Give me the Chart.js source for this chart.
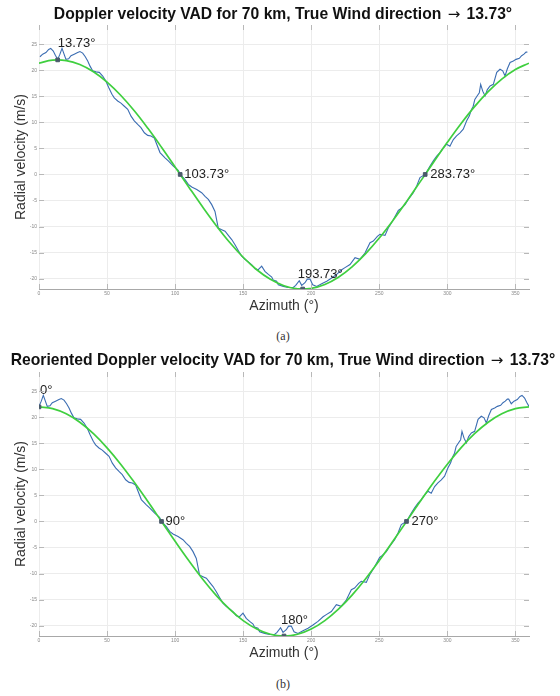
<!DOCTYPE html>
<html><head><meta charset="utf-8">
<script src="https://cdn.jsdelivr.net/npm/chart.js@4.4.1/dist/chart.umd.min.js"></script>
<style>
html,body{margin:0;padding:0;background:#fff;width:560px;height:696px;overflow:hidden;font-family:"Liberation Sans",Arial,sans-serif;}
.wrap{position:absolute;left:0;width:560px;height:318px;}
.title{position:absolute;left:0;width:566px;text-align:center;font-weight:bold;font-size:15.7px;line-height:18px;color:#111;white-space:nowrap;}
.title .arr{font-family:"DejaVu Sans",sans-serif;font-weight:normal;font-size:15px;margin:0 2px;}
.cap{position:absolute;left:0;width:566px;text-align:center;font-family:"Liberation Serif","DejaVu Serif",serif;font-size:12px;line-height:14px;color:#333;}
</style></head>
<body>
<div class="wrap" style="top:0"><canvas id="c1" width="560" height="318"></canvas></div>
<div class="title" style="top:5px">Doppler velocity VAD for 70 km, True Wind direction <span class="arr">→</span> 13.73°</div>
<div class="cap" style="top:329px">(a)</div>
<div class="wrap" style="top:347px"><canvas id="c2" width="560" height="318"></canvas></div>
<div class="title" style="top:351px">Reoriented Doppler velocity VAD for 70 km, True Wind direction <span class="arr">→</span> 13.73°</div>
<div class="cap" style="top:677px">(b)</div>
<script>
// ---- data ----
const WIND_DIR = 13.73;
const AZIMUTH = [0.7,2.7,5.1,7.1,8.6,10.5,12.0,13.73,15.4,16.9,19.8,21.8,23.5,25.9,28.4,30.1,32.1,34.0,35.8,37.5,39.4,41.9,44.3,46.8,49.2,51.2,53.6,55.3,57.8,60.2,62.7,65.2,67.6,70.0,72.5,74.9,77.4,79.9,82.3,84.7,86.5,88.9,92.6,95.0,98.7,102.3,103.73,107.3,109.7,112.2,115.9,119.5,122.0,124.4,126.9,129.3,131.7,134.2,136.7,139.1,141.6,144.0,146.4,148.9,151.3,153.8,156.2,158.7,161.1,163.6,166.0,168.5,171.0,172.1,174.6,175.8,179.5,183.2,186.8,188.6,191.2,193.0,195.4,197.1,199.1,201.1,204.0,207.7,211.4,215.0,218.7,222.4,224.8,228.5,232.2,235.8,239.5,243.2,245.6,248.6,250.5,254.2,256.6,260.3,264.0,265.2,268.9,271.3,275.0,277.5,279.9,283.73,285.5,287.3,289.7,292.2,294.6,297.1,299.5,301.9,304.4,306.8,309.3,311.7,314.2,316.1,317.8,319.0,320.2,322.0,323.5,324.5,326.0,327.7,329.4,331.4,333.8,336.3,338.7,340.7,342.4,344.1,346.1,348.5,350.5,352.9,354.6,356.3,357.8,358.8];
const VELOCITY = [22.6,23.1,23.4,24.0,24.2,23.7,22.9,22.1,23.1,24.2,22.1,22.2,22.8,23.1,23.4,23.6,23.3,22.6,21.8,20.8,19.9,19.7,19.6,18.9,17.9,16.7,15.4,14.7,14.1,13.7,13.1,12.5,11.2,10.3,9.6,9.0,8.0,7.5,7.4,7.0,5.8,4.2,3.2,2.6,1.6,0.8,0.0,-1.0,-1.9,-2.4,-2.9,-3.5,-4.2,-4.8,-5.8,-7.1,-10.3,-10.6,-10.9,-11.7,-12.5,-13.5,-14.6,-15.7,-16.3,-16.8,-17.3,-18.1,-18.3,-17.6,-18.6,-19.2,-19.7,-20.3,-20.5,-21.2,-21.5,-21.7,-21.7,-21.3,-20.4,-21.3,-20.8,-20.1,-20.1,-21.2,-21.5,-21.0,-20.5,-19.9,-19.2,-18.3,-17.9,-17.3,-16.0,-16.3,-15.1,-13.1,-12.8,-11.9,-11.5,-11.7,-10.3,-8.7,-6.9,-6.7,-5.8,-4.8,-3.5,-2.2,-0.6,0.0,0.8,1.6,2.6,3.5,4.2,5.1,5.8,5.4,6.7,7.4,8.0,8.7,10.3,11.2,12.5,13.1,14.4,15.1,15.7,17.3,16.0,15.1,16.3,17.0,17.3,19.6,20.2,19.9,18.9,20.3,21.5,21.8,22.1,22.3,22.8,23.1,23.5,23.5];
const FIT_AZ = [0,10,20,30,40,50,60,70,80,90,100,110,120,130,140,150,160,170,180,190,200,210,220,230,240,250,260,270,280,290,300,310,320,330,340,350,360];
const FIT_TRUE = [21.37,21.95,21.87,21.12,19.73,17.74,15.21,12.22,8.85,5.22,1.43,-2.40,-6.16,-9.74,-13.02,-15.90,-18.30,-20.14,-21.37,-21.95,-21.87,-21.12,-19.73,-17.74,-15.21,-12.22,-8.85,-5.22,-1.43,2.40,6.16,9.74,13.02,15.90,18.30,20.14,21.37];
const FIT_REORIENTED = [22.00,21.67,20.67,19.05,16.85,14.14,11.00,7.52,3.82,0,-3.82,-7.52,-11.00,-14.14,-16.85,-19.05,-20.67,-21.67,-22.00,-21.67,-20.67,-19.05,-16.85,-14.14,-11.00,-7.52,-3.82,0,3.82,7.52,11.00,14.14,16.85,19.05,20.67,21.67,22.00];
const MARK_AZ_TRUE = [13.73,103.73,193.73,283.73];
const MARK_AZ_REORIENTED = [0,90,180,270];
const MARK_VEL = [22,0,-22,0];
const MARK_LABELS_TRUE = ['13.73°','103.73°','193.73°','283.73°'];
const MARK_LABELS_REORIENTED = ['0°','90°','180°','270°'];
const X_TICKS = [0,50,100,150,200,250,300,350];
const Y_TICKS = [-20,-15,-10,-5,0,5,10,15,20,25];

// ---- styling ----
const LABEL_OFFSETS = [[0,-16],[4,0],[-5,-15],[5,0]];
const LABEL_OFFSETS_B = [[1,-16],[4,0],[-3,-16],[5,0]];

const innerTicks = {
  id:'innerTicks',
  afterDraw(chart){
    const {ctx, chartArea:a, scales:{x,y}} = chart;
    ctx.save(); ctx.strokeStyle='#b8b8b8'; ctx.lineWidth=1;
    ctx.beginPath();
    Y_TICKS.forEach(v=>{const p=Math.round(y.getPixelForValue(v))+0.5; ctx.moveTo(a.left,p);ctx.lineTo(a.left+5,p);ctx.moveTo(a.right,p);ctx.lineTo(a.right-5,p);});
    X_TICKS.forEach(v=>{const p=Math.round(x.getPixelForValue(v))+0.5; ctx.moveTo(p,a.bottom);ctx.lineTo(p,a.bottom-5);ctx.moveTo(p,a.top);ctx.lineTo(p,a.top+5);});
    ctx.stroke(); ctx.restore();
  }
};
const markLabels = {
  id:'markLabels',
  afterDatasetsDraw(chart, args, opts){
    const {ctx, scales:{x,y}} = chart;
    ctx.save(); ctx.font='13px "Liberation Sans", Arial, sans-serif'; ctx.fillStyle='#222';
    ctx.textAlign='left'; ctx.textBaseline='middle';
    opts.az.forEach((a,i)=>{
      const px=x.getPixelForValue(a), py=y.getPixelForValue(MARK_VEL[i]);
      ctx.fillText(opts.labels[i], px+opts.offsets[i][0], py+opts.offsets[i][1]);
    });
    ctx.restore();
  }
};

function makeChart(id, blue, fit, markAz, labels, offsets){
  return new Chart(document.getElementById(id), {
    type:'line',
    data:{datasets:[
      {data: markAz.map((a,i)=>({x:a,y:MARK_VEL[i]})), showLine:false, pointStyle:'rect', pointRadius:2.6, backgroundColor:'#4a5a6a', borderColor:'#4a5a6a', order:0},
      {data: FIT_AZ.map((a,i)=>({x:a,y:fit[i]})), borderColor:'#3fcf3f', borderWidth:1.7, pointRadius:0, tension:0.4, order:1},
      {data: blue, borderColor:'#3b6db2', borderWidth:1.1, pointRadius:0, tension:0, order:2}
    ]},
    options:{
      responsive:false, animation:false, devicePixelRatio:1,
      layout:{padding:{top:25,right:31,left:0,bottom:0}},
      plugins:{legend:{display:false}, tooltip:{enabled:false},
        markLabels:{az:markAz, labels:labels, offsets:offsets}},
      scales:{
        x:{type:'linear', min:0, max:360,
          afterBuildTicks(s){ s.ticks = X_TICKS.map(v=>({value:v})); },
          afterFit(s){ s.height = 29; },
          grid:{color:'#ececec', drawTicks:false},
          border:{display:true, color:'#a8a8a8'},
          ticks:{font:{size:5}, color:'#888', padding:2, maxRotation:0},
          title:{display:true, text:'Azimuth (°)', font:{size:14, family:'"Liberation Sans", Arial, sans-serif'}, color:'#333', padding:{top:0,bottom:3}}
        },
        y:{type:'linear', min:-22, max:28.7,
          afterBuildTicks(s){ s.ticks = Y_TICKS.map(v=>({value:v})); },
          afterFit(s){ s.width = 39; },
          grid:{color:'#ececec', drawTicks:false},
          border:{display:false},
          ticks:{font:{size:5}, color:'#888', padding:2},
          title:{display:true, text:'Radial velocity (m/s)', font:{size:14, family:'"Liberation Sans", Arial, sans-serif'}, color:'#333', padding:{top:12.6,bottom:0}}
        }
      }
    },
    plugins:[innerTicks, markLabels]
  });
}

const blueTrue = AZIMUTH.map((a,i)=>({x:a, y:VELOCITY[i]}));
let blueRe = AZIMUTH.map((a,i)=>({x:(((a-WIND_DIR)%360)+360)%360, y:VELOCITY[i]})).sort((p,q)=>p.x-q.x);
if (blueRe[0].x === 0) blueRe.push({x:360, y:blueRe[0].y});

makeChart('c1', blueTrue, FIT_TRUE, MARK_AZ_TRUE, MARK_LABELS_TRUE, LABEL_OFFSETS);
makeChart('c2', blueRe, FIT_REORIENTED, MARK_AZ_REORIENTED, MARK_LABELS_REORIENTED, LABEL_OFFSETS_B);
</script>
</body></html>
